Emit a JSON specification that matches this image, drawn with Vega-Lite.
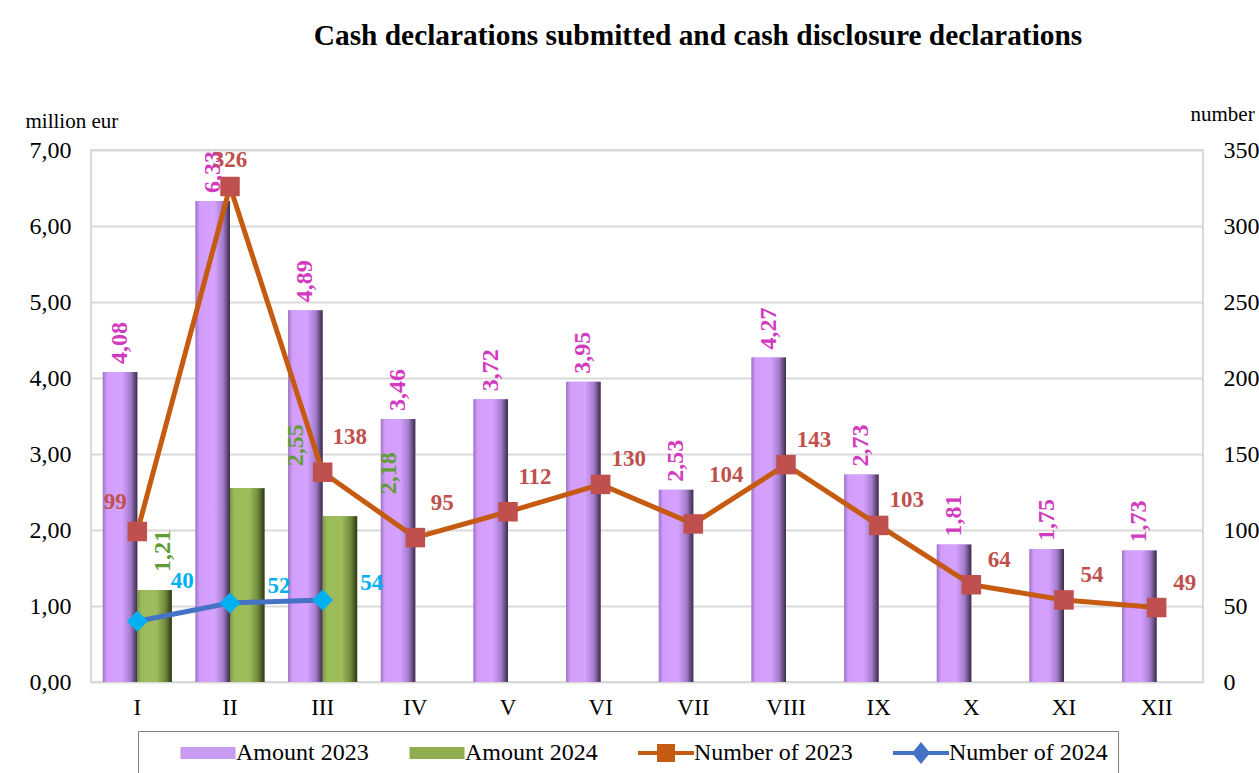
{
  "$schema": "https://vega.github.io/schema/vega-lite/v6.json",
  "width": 1112,
  "height": 532,
  "autosize": {"type": "none"},
  "padding": {"left": 91, "top": 150, "right": 56, "bottom": 91},
  "background": "white",
  "config": {
    "font": "Liberation Serif",
    "view": {"stroke": "#d9d9d9", "strokeWidth": 2},
    "locale": {"number": {"decimal": ",", "thousands": ".", "grouping": [3], "currency": ["", " €"]}},
    "axis": {"labelFont": "Liberation Serif", "labelColor": "black", "titleFont": "Liberation Serif", "titleColor": "black", "titleFontWeight": "normal"},
    "legend": {"labelFont": "Liberation Serif", "titleFont": "Liberation Serif"}
  },
  "title": {
    "text": "Cash declarations submitted and cash disclosure declarations",
    "font": "Liberation Serif",
    "fontSize": 29.4,
    "fontWeight": "bold",
    "color": "black",
    "anchor": "middle",
    "frame": "group",
    "dx": 51,
    "offset": 52
  },
  "datasets": {
    "amounts": [
      {"month": "I", "series": "Amount 2023", "value": 4.08},
      {"month": "II", "series": "Amount 2023", "value": 6.33},
      {"month": "III", "series": "Amount 2023", "value": 4.89},
      {"month": "IV", "series": "Amount 2023", "value": 3.46},
      {"month": "V", "series": "Amount 2023", "value": 3.72},
      {"month": "VI", "series": "Amount 2023", "value": 3.95},
      {"month": "VII", "series": "Amount 2023", "value": 2.53},
      {"month": "VIII", "series": "Amount 2023", "value": 4.27},
      {"month": "IX", "series": "Amount 2023", "value": 2.73},
      {"month": "X", "series": "Amount 2023", "value": 1.81},
      {"month": "XI", "series": "Amount 2023", "value": 1.75},
      {"month": "XII", "series": "Amount 2023", "value": 1.73},
      {"month": "I", "series": "Amount 2024", "value": 1.21},
      {"month": "II", "series": "Amount 2024", "value": 2.55},
      {"month": "III", "series": "Amount 2024", "value": 2.18}
    ],
    "numbers": [
      {"month": "I", "m": 1, "series": "Number of 2023", "value": 99},
      {"month": "II", "m": 2, "series": "Number of 2023", "value": 326},
      {"month": "III", "m": 3, "series": "Number of 2023", "value": 138},
      {"month": "IV", "m": 4, "series": "Number of 2023", "value": 95},
      {"month": "V", "m": 5, "series": "Number of 2023", "value": 112},
      {"month": "VI", "m": 6, "series": "Number of 2023", "value": 130},
      {"month": "VII", "m": 7, "series": "Number of 2023", "value": 104},
      {"month": "VIII", "m": 8, "series": "Number of 2023", "value": 143},
      {"month": "IX", "m": 9, "series": "Number of 2023", "value": 103},
      {"month": "X", "m": 10, "series": "Number of 2023", "value": 64},
      {"month": "XI", "m": 11, "series": "Number of 2023", "value": 54},
      {"month": "XII", "m": 12, "series": "Number of 2023", "value": 49},
      {"month": "I", "m": 1, "series": "Number of 2024", "value": 40},
      {"month": "II", "m": 2, "series": "Number of 2024", "value": 52},
      {"month": "III", "m": 3, "series": "Number of 2024", "value": 54}
    ]
  },
  "encoding": {
    "x": {
      "field": "month",
      "type": "nominal",
      "scale": {"domain": ["I", "II", "III", "IV", "V", "VI", "VII", "VIII", "IX", "X", "XI", "XII"], "paddingInner": 0.255, "paddingOuter": 0.1275},
      "axis": {"title": null, "labelAngle": 0, "ticks": false, "domain": false, "labelPadding": 14, "labelFontSize": 23}
    }
  },
  "layer": [
    {
      "data": {"name": "amounts"},
      "encoding": {
        "y": {
          "field": "value",
          "type": "quantitative",
          "scale": {"domain": [0, 7]},
          "axis": {
            "title": "million eur",
            "titleAngle": 0,
            "titleAlign": "left",
            "titleBaseline": "alphabetic",
            "titleX": -66,
            "titleY": -23,
            "titleFontSize": 21,
            "values": [0, 1, 2, 3, 4, 5, 6, 7],
            "format": ".2f",
            "labelFontSize": 24,
            "labelPadding": 20,
            "ticks": false,
            "domain": false,
            "gridColor": "#d9d9d9",
            "gridWidth": 2
          }
        }
      },
      "layer": [
        {
          "mark": {"type": "bar"},
          "encoding": {
            "xOffset": {"field": "series", "type": "nominal", "scale": {"domain": ["Amount 2023", "Amount 2024"]}},
            "color": {
              "field": "series",
              "type": "nominal",
              "scale": {"domain": ["Amount 2023", "Amount 2024", "Number of 2023", "Number of 2024"], "range": ["#c89af0", "#8fae50", "#c55a11", "#4472c4"]},
              "legend": {
                "orient": "none",
                "legendX": 47,
                "legendY": 581,
                "direction": "horizontal",
                "columns": 4,
                "title": "\u2003\u2003",
                "titleOrient": "left",
                "titleFontSize": 16,
                "titlePadding": 0,
                "symbolSize": 400,
                "symbolOffset": 48,
                "symbolStrokeWidth": 0,
                "labelFont": "Liberation Serif",
                "labelFontSize": 24,
                "labelColor": "black",
                "labelOffset": 16,
                "columnPadding": 8,
                "padding": 10,
                "strokeColor": "#7f7f7f",
                "fillColor": "white",
                "encode": {
                  "symbols": {
                    "update": {
                      "shape": {"signal": "datum.value === 'Number of 2023' ? 'M-2.8,-0.2H2.8V0.2H-2.8Z M-0.9,-0.9H0.9V0.9H-0.9Z' : datum.value === 'Number of 2024' ? 'M-2.8,-0.2H2.8V0.2H-2.8Z M0,-1.1L0.9,0L0,1.1L-0.9,0Z' : 'M-2.75,-0.6H2.75V0.6H-2.75Z'"},
                      "strokeWidth": {"value": 0},
                      "opacity": {"value": 1}
                    }
                  },
                  "labels": {
                    "update": {
                      "font": {"value": "Liberation Serif"}
                    }
                  }
                }
              }
            }
          }
        },
        {
          "transform": [{"filter": "datum.series === 'Amount 2023'"}],
          "mark": {
            "type": "bar",
            "color": {"gradient": "linear", "x1": 0, "y1": 0, "x2": 1, "y2": 0, "stops": [
              {"offset": 0, "color": "#9c76c0"},
              {"offset": 0.12, "color": "#d29cfb"},
              {"offset": 0.55, "color": "#d6a2ff"},
              {"offset": 0.8, "color": "#a47ccc"},
              {"offset": 1, "color": "#3a2c48"}
            ]}
          },
          "encoding": {
            "xOffset": {"field": "series", "type": "nominal", "scale": {"domain": ["Amount 2023", "Amount 2024"]}}
          }
        },
        {
          "transform": [{"filter": "datum.series === 'Amount 2024'"}],
          "mark": {
            "type": "bar",
            "color": {"gradient": "linear", "x1": 0, "y1": 0, "x2": 1, "y2": 0, "stops": [
              {"offset": 0, "color": "#7b9446"},
              {"offset": 0.12, "color": "#9bbb59"},
              {"offset": 0.55, "color": "#9ebd5c"},
              {"offset": 0.8, "color": "#738c3e"},
              {"offset": 1, "color": "#2c3817"}
            ]}
          },
          "encoding": {
            "xOffset": {"field": "series", "type": "nominal", "scale": {"domain": ["Amount 2023", "Amount 2024"]}}
          }
        },
        {
          "transform": [{"filter": "datum.series === 'Amount 2023'"}],
          "mark": {"type": "text", "angle": 270, "align": "left", "baseline": "middle", "dx": 8, "fontSize": 24, "fontWeight": "bold", "color": "#d23ac0"},
          "encoding": {
            "xOffset": {"field": "series", "type": "nominal", "scale": {"domain": ["Amount 2023", "Amount 2024"]}},
            "text": {"field": "value", "type": "quantitative", "format": ".2f"}
          }
        },
        {
          "transform": [{"filter": "datum.series === 'Amount 2024' && datum.month === 'I'"}],
          "mark": {"type": "text", "angle": 270, "align": "left", "baseline": "middle", "dx": 18, "dy": 8, "fontSize": 24, "fontWeight": "bold", "color": "#5f9e35"},
          "encoding": {
            "xOffset": {"field": "series", "type": "nominal", "scale": {"domain": ["Amount 2023", "Amount 2024"]}},
            "text": {"field": "value", "type": "quantitative", "format": ".2f"}
          }
        },
        {
          "transform": [{"filter": "datum.series === 'Amount 2024' && datum.month !== 'I'"}],
          "mark": {"type": "text", "angle": 270, "align": "left", "baseline": "middle", "dx": 22, "dy": 49, "fontSize": 24, "fontWeight": "bold", "color": "#5f9e35"},
          "encoding": {
            "xOffset": {"field": "series", "type": "nominal", "scale": {"domain": ["Amount 2023", "Amount 2024"]}},
            "text": {"field": "value", "type": "quantitative", "format": ".2f"}
          }
        }
      ]
    },
    {
      "data": {"name": "numbers"},
      "encoding": {
        "y": {
          "field": "value",
          "type": "quantitative",
          "scale": {"domain": [0, 350]},
          "axis": {
            "orient": "right",
            "title": "number",
            "titleAngle": 0,
            "titleAlign": "left",
            "titleBaseline": "alphabetic",
            "titleX": -13,
            "titleY": -30,
            "titleFontSize": 21,
            "values": [0, 50, 100, 150, 200, 250, 300, 350],
            "format": "d",
            "labelFontSize": 24,
            "labelPadding": 20,
            "ticks": false,
            "domain": false,
            "grid": false
          }
        }
      },
      "layer": [
        {
          "transform": [{"filter": "datum.series === 'Number of 2023'"}],
          "mark": {"type": "line", "color": "#c55a11", "strokeWidth": 5},
          "encoding": {"order": {"field": "m", "type": "quantitative"}}
        },
        {
          "transform": [{"filter": "datum.series === 'Number of 2024'"}],
          "mark": {"type": "line", "color": "#4472c4", "strokeWidth": 5},
          "encoding": {"order": {"field": "m", "type": "quantitative"}}
        },
        {
          "transform": [{"filter": "datum.series === 'Number of 2023'"}],
          "mark": {"type": "point", "shape": "square", "filled": true, "size": 380, "opacity": 1, "color": "#c0504d"}
        },
        {
          "transform": [{"filter": "datum.series === 'Number of 2024'"}],
          "mark": {"type": "point", "shape": "diamond", "filled": true, "size": 440, "opacity": 1, "color": "#00b0f0"}
        },
        {
          "transform": [{"filter": "datum.series === 'Number of 2023' && datum.month === 'I'"}],
          "mark": {"type": "text", "align": "center", "baseline": "middle", "dx": -22, "dy": -30, "fontSize": 23, "fontWeight": "bold", "color": "#c0504d"},
          "encoding": {"text": {"field": "value", "type": "quantitative", "format": "d"}}
        },
        {
          "transform": [{"filter": "datum.series === 'Number of 2023' && datum.month === 'II'"}],
          "mark": {"type": "text", "align": "center", "baseline": "middle", "dx": 0, "dy": -26, "fontSize": 23, "fontWeight": "bold", "color": "#c0504d"},
          "encoding": {"text": {"field": "value", "type": "quantitative", "format": "d"}}
        },
        {
          "transform": [{"filter": "datum.series === 'Number of 2023' && datum.month === 'VII'"}],
          "mark": {"type": "text", "align": "center", "baseline": "middle", "dx": 33, "dy": -49, "fontSize": 23, "fontWeight": "bold", "color": "#c0504d"},
          "encoding": {"text": {"field": "value", "type": "quantitative", "format": "d"}}
        },
        {
          "transform": [{"filter": "datum.series === 'Number of 2023' && indexof(['III','IV','V'], datum.month) >= 0"}],
          "mark": {"type": "text", "align": "center", "baseline": "middle", "dx": 27, "dy": -35, "fontSize": 23, "fontWeight": "bold", "color": "#c0504d"},
          "encoding": {"text": {"field": "value", "type": "quantitative", "format": "d"}}
        },
        {
          "transform": [{"filter": "datum.series === 'Number of 2023' && indexof(['VI','VIII','IX','X','XI','XII'], datum.month) >= 0"}],
          "mark": {"type": "text", "align": "center", "baseline": "middle", "dx": 28, "dy": -25, "fontSize": 23, "fontWeight": "bold", "color": "#c0504d"},
          "encoding": {"text": {"field": "value", "type": "quantitative", "format": "d"}}
        },
        {
          "transform": [{"filter": "datum.series === 'Number of 2024' && datum.month === 'I'"}],
          "mark": {"type": "text", "align": "center", "baseline": "middle", "dx": 45, "dy": -40, "fontSize": 23, "fontWeight": "bold", "color": "#00b0f0"},
          "encoding": {"text": {"field": "value", "type": "quantitative", "format": "d"}}
        },
        {
          "transform": [{"filter": "datum.series === 'Number of 2024' && datum.month !== 'I'"}],
          "mark": {"type": "text", "align": "center", "baseline": "middle", "dx": 49, "dy": -17, "fontSize": 23, "fontWeight": "bold", "color": "#00b0f0"},
          "encoding": {"text": {"field": "value", "type": "quantitative", "format": "d"}}
        }
      ]
    }
  ],
  "resolve": {"scale": {"y": "independent"}}
}
